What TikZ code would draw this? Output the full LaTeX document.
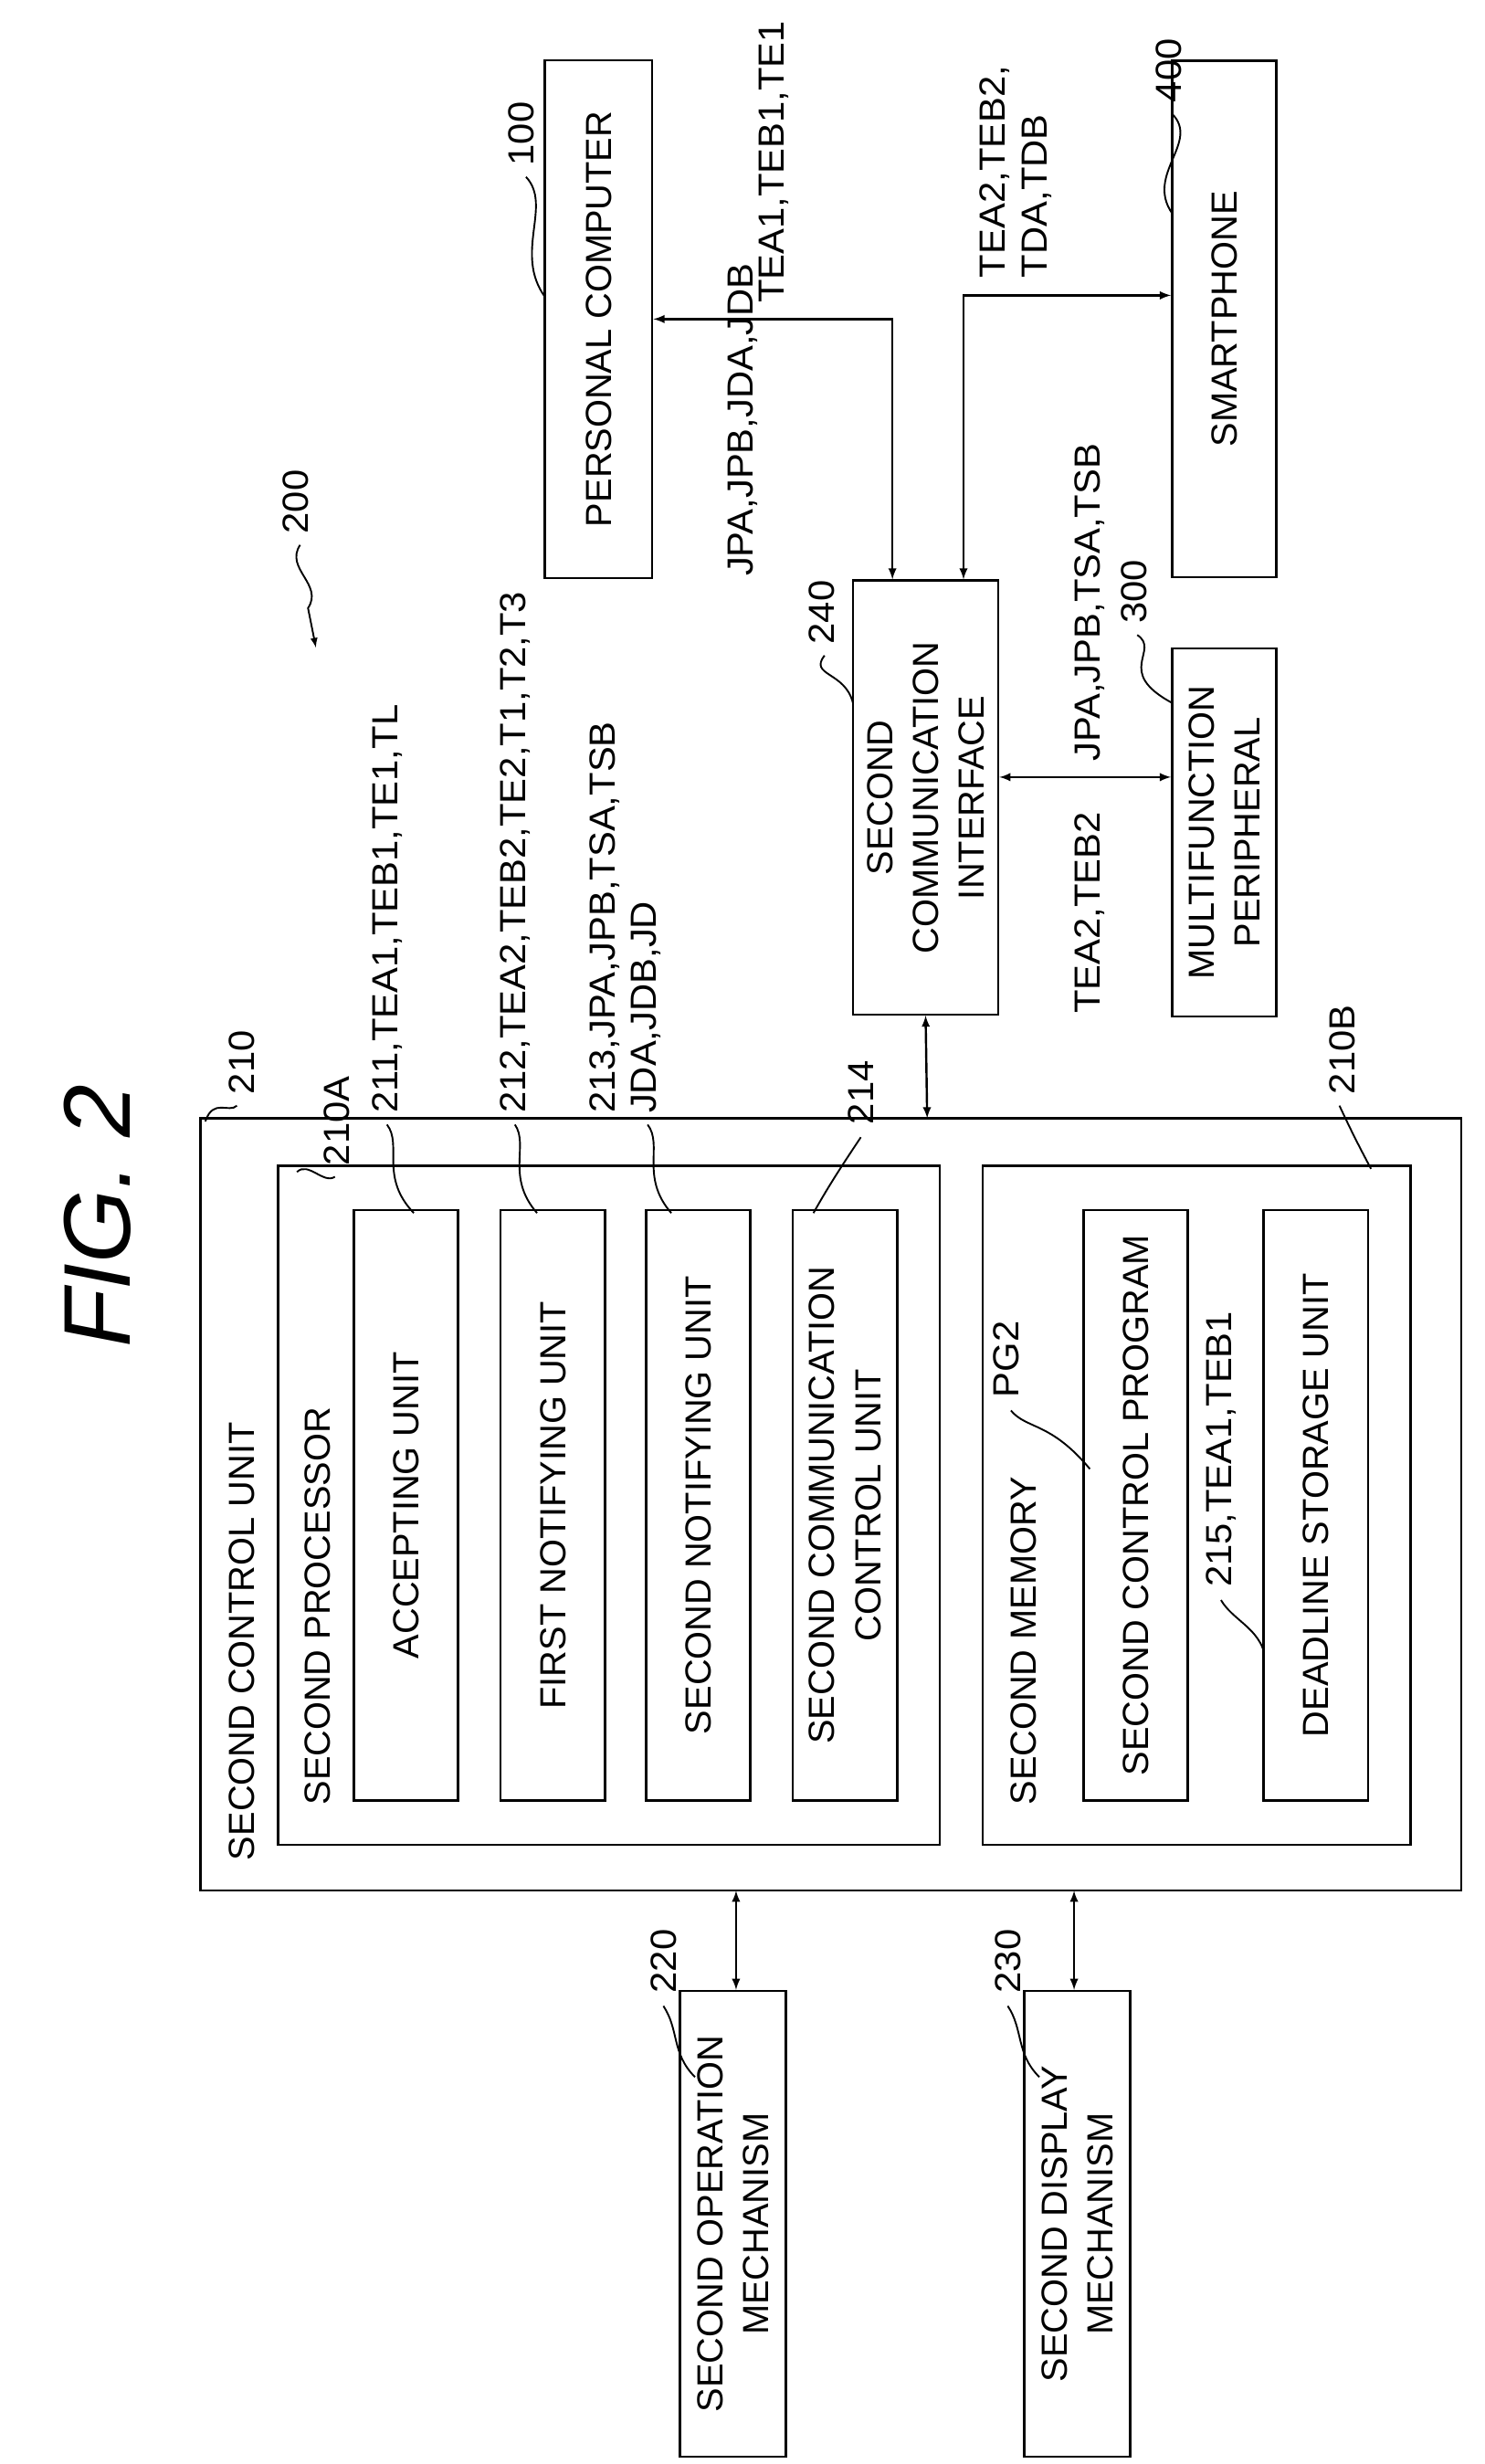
\documentclass[tikz,border=0pt]{standalone}
\usepackage{fontspec}
\setmainfont{Liberation Sans}
\begin{document}
\begin{tikzpicture}[x=1pt,y=-1pt,
  bx/.style={draw,line width=1.4pt},
  t/.style={rotate=90,font=\fontsize{23}{26}\selectfont\addfontfeatures{FakeStretch=1.05},inner sep=0pt},
  tc/.style={rotate=90,font=\fontsize{23}{26}\selectfont,inner sep=0pt,align=center},
  arr/.style={line width=1.4pt,<->,>=latex},
  sq/.style={line width=1.1pt}]
\useasboundingbox[fill=white] (0,0) rectangle (940,1560);
\node[rotate=90,font=\fontsize{60}{60}\selectfont\itshape] (fig) at (62,770) {FIG. 2};
% outer box
\draw[bx] (127,708) rectangle (925,1197);
\coordinate (outerTop) at (587,708);
\node[tc,anchor=west] (l210u) at (153,1178) {SECOND CONTROL UNIT};
\draw[bx] (176,738) rectangle (595,1168);
\node[tc,anchor=west] (lproc) at (201,1143) {SECOND PROCESSOR};
\node[bx,tc,minimum width=374,minimum height=66] (acc) at (257,953) {ACCEPTING UNIT};
\node[bx,tc,minimum width=374,minimum height=66] (fn) at (350,953) {FIRST NOTIFYING UNIT};
\node[bx,tc,minimum width=374,minimum height=66] (sn) at (442,953) {SECOND NOTIFYING UNIT};
\node[bx,tc,minimum width=374,minimum height=66] (scc) at (535,953) {SECOND COMMUNICATION\\[3pt]CONTROL UNIT};
\draw[bx] (622,738) rectangle (893,1168);
\node[tc,anchor=west] (lmem) at (648,1143) {SECOND MEMORY};
\node[bx,tc,minimum width=374,minimum height=66] (scp) at (719,953) {SECOND CONTROL PROGRAM};
\node[bx,tc,minimum width=374,minimum height=66] (dsu) at (833,953) {DEADLINE STORAGE UNIT};
% labels in processor
\node[t,anchor=west] (l211) at (245,705) {211,TEA1,TEB1,TE1,TL};
\node[t,anchor=west] (l212) at (326,705) {212,TEA2,TEB2,TE2,T1,T2,T3};
\node[t,anchor=west] (l213) at (383,705) {213,JPA,JPB,TSA,TSB};
\node[t,anchor=west] (l213b) at (409,705) {JDA,JDB,JD};
\node[t,anchor=west] (l214) at (545,712) {214};
\node[t,anchor=west] (l210A) at (213,738) {210A};
\node[t,anchor=west] (l210) at (153,693) {210};
\node[t,anchor=west] (l210B) at (850,693) {210B};
\node[t,anchor=west] (lpg2) at (637,885) {PG2};
\node[t,anchor=west] (l215) at (773,1005) {215,TEA1,TEB1};
\draw[sq] (150,700) .. controls (145,705) and (135,695) .. (130,710);
\draw[sq] (212,745) .. controls (205,750) and (195,735) .. (188,742);
\draw[sq] (245,712) .. controls (255,725) and (240,745) .. (262,768);
\draw[sq] (326,712) .. controls (335,725) and (320,745) .. (340,768);
\draw[sq] (410,712) .. controls (420,725) and (405,745) .. (425,768);
\draw[sq] (545,720) .. controls (535,735) and (525,750) .. (515,768);
\draw[sq] (848,700) .. controls (855,715) and (860,725) .. (868,740);
\draw[sq] (640,893) .. controls (650,905) and (665,900) .. (690,930);
\draw[sq] (773,1013) .. controls (780,1025) and (795,1030) .. (800,1045);
% 240
\node[bx,tc,minimum width=275,minimum height=92] (ci) at (586,505) {SECOND\\[3pt]COMMUNICATION\\[3pt]INTERFACE};
\node[t,anchor=west] (l240) at (520,408) {240};
\draw[sq] (522,415) .. controls (512,428) and (535,425) .. (540,445);
\draw[arr] (ci.west |- 0,643) -- (outerTop);
% PC
\node[bx,tc,minimum width=328,minimum height=68] (pc) at (379,202) {PERSONAL COMPUTER};
\node[t,anchor=west] (l100) at (330,105) {100};
\draw[sq] (333,112) .. controls (350,130) and (325,160) .. (345,188);
\node[bx,tc,minimum width=327,minimum height=66] (sp) at (775,202) {SMARTPHONE};
\node[t,anchor=west] (l400) at (740,65) {400};
\draw[sq] (742,72) .. controls (760,90) and (725,110) .. (742,135);
\node[bx,tc,minimum width=233,minimum height=66] (mfp) at (775,527) {MULTIFUNCTION\\[3pt]PERIPHERAL};
\node[t,anchor=west] (l300) at (718,395) {300};
\draw[sq] (720,402) .. controls (735,412) and (705,425) .. (742,445);
% connectors
\coordinate (pcj) at (565,202);
\coordinate (spj) at (610,187);
\draw[arr] (pc.south |- 0,202) -- (pcj) -- (pcj |- ci.east);
\draw[arr] (sp.north |- 0,187) -- (spj) -- (spj |- ci.east);
\draw[arr] (ci.south |- 0,492) -- (mfp.north |- 0,492);
\node[t,anchor=west] (lj1) at (470,365) {JPA,JPB,JDA,JDB};
\node[t,anchor=west] (lt1) at (490,192) {TEA1,TEB1,TE1};
\node[t,anchor=west,align=left] (lt2) at (643,176) {TEA2,TEB2,\\[1pt]TDA,TDB};
\node[t,anchor=west] (lj2) at (690,482) {JPA,JPB,TSA,TSB};
\node[t,anchor=west] (lt3) at (690,642) {TEA2,TEB2};
% bottom
\node[bx,tc,minimum width=295,minimum height=67] (op) at (464,1408) {SECOND OPERATION\\[3pt]MECHANISM};
\node[bx,tc,minimum width=295,minimum height=67] (dm) at (682,1408) {SECOND DISPLAY\\[3pt]MECHANISM};
\coordinate (opT) at (466,1197);
\coordinate (dmT) at (680,1197);
\draw[arr] (opT) -- (opT |- op.east);
\draw[arr] (dmT) -- (dmT |- dm.east);
\node[t,anchor=west] (l220) at (420,1262) {220};
\node[t,anchor=west] (l230) at (638,1262) {230};
\draw[sq] (420,1270) .. controls (430,1285) and (425,1300) .. (440,1315);
\draw[sq] (638,1270) .. controls (648,1285) and (643,1300) .. (658,1315);
% 200
\node[t,anchor=west] (l200) at (187,338) {200};
\draw[sq,->,>=latex] (190,345) .. controls (180,360) and (205,370) .. (195,385) -- (200,410);
\end{tikzpicture}
\end{document}
